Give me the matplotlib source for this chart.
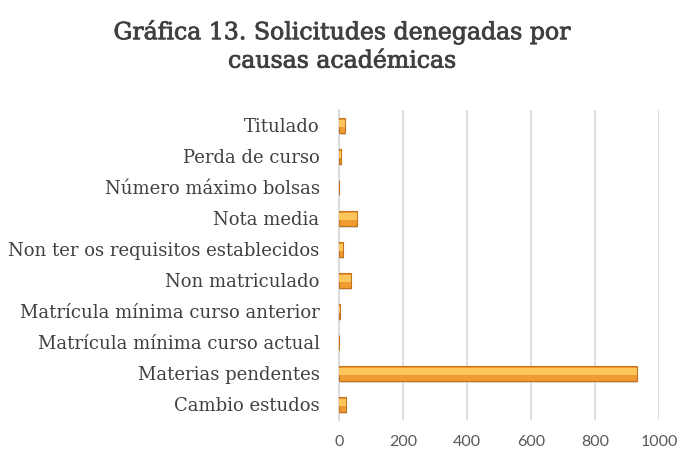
import matplotlib.pyplot as plt
import matplotlib.patheffects as pe
import numpy as np

# categorias (de abaixo a arriba) e valores
causas = ["Cambio estudos", "Materias pendentes", "Matrícula mínima curso actual",
          "Matrícula mínima curso anterior", "Non matriculado",
          "Non ter os requisitos establecidos", "Nota media", "Número máximo bolsas",
          "Perda de curso", "Titulado"]
solicitudes = [22, 930, 1, 2, 38, 13, 55, 1, 6, 20]
xticks = [0, 200, 400, 600, 800, 1000]

fig = plt.figure(figsize=(6.84, 4.5), dpi=100)
ax = fig.add_axes([0.4956, 0.0667, 0.468, 0.689])

y = np.arange(len(causas))
# sombra
ax.barh(y - 0.06, solicitudes, height=0.5, left=3, color="#dcdcdc", zorder=2)
# barra principal
ax.barh(y, solicitudes, height=0.5, color="#ee9b2f", edgecolor="#c4731c",
        linewidth=0.8, zorder=3)
# brillo
ax.barh(y + 0.06, solicitudes, height=0.24, color="#fcc65c", linewidth=0, zorder=4)

ax.set_xlim(0, 1000)
ax.set_ylim(-0.5, len(causas) - 0.5)
ax.set_xticks(xticks)
ax.set_xticklabels([str(t) for t in xticks], family="Lato", fontsize=11.5, color="#595959")
ax.set_yticks(y)
ax.set_yticklabels(causas, family="DejaVu Serif", fontsize=13, color="#404040")
ax.tick_params(axis="y", length=0, pad=14)
ax.tick_params(axis="x", length=0, pad=11)
ax.grid(axis="x", color="#d9d9d9", linewidth=1.3, zorder=0)
for s in ["top", "right", "bottom"]:
    ax.spines[s].set_visible(False)
ax.spines["left"].set_color("#d9d9d9")
ax.spines["left"].set_linewidth(1.3)

titulo = fig.text(0.5, 0.898, "Gráfica 13. Solicitudes denegadas por\ncausas académicas",
                  ha="center", va="center", family="DejaVu Serif", fontsize=17,
                  color="#404040", linespacing=1.3)
# un pouco mais groso, como no orixinal
titulo.set_path_effects([pe.withStroke(linewidth=0.6, foreground="#404040")])

fig.savefig("out.png", dpi=100)
